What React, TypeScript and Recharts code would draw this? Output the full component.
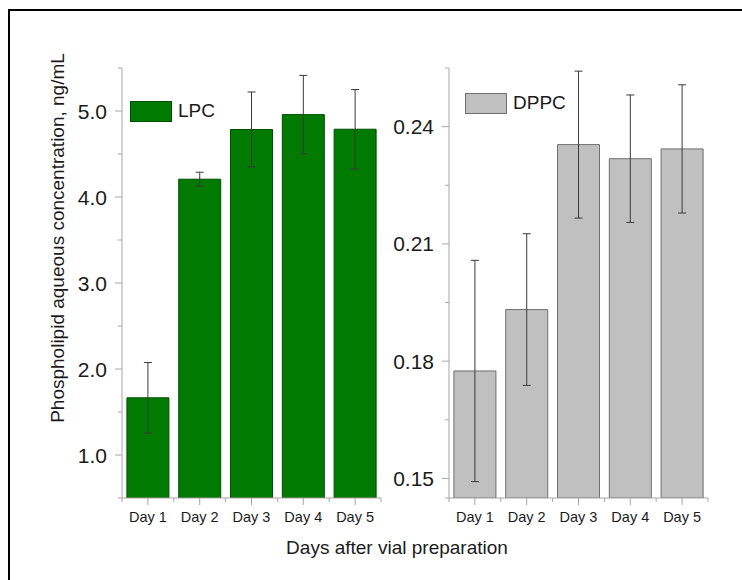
import React from 'react'
import { Bar, BarChart, ErrorBar, Legend, XAxis, YAxis } from 'recharts'

const DAYS = ['Day 1', 'Day 2', 'Day 3', 'Day 4', 'Day 5']
const LPC_MEAN = [1.665, 4.207, 4.785, 4.958, 4.788]
const LPC_ERR = [0.41, 0.081, 0.436, 0.456, 0.462]
const DPPC_MEAN = [0.1775, 0.1932, 0.2354, 0.2318, 0.2343]
const DPPC_ERR = [0.0283, 0.0194, 0.0188, 0.0163, 0.0164]
const LPC_TICKS = [0.5, 1, 1.5, 2, 2.5, 3, 3.5, 4, 4.5, 5, 5.5]
const DPPC_TICKS = [0.145, 0.15, 0.165, 0.18, 0.195, 0.21, 0.225, 0.24, 0.255]

const FONT = '"Liberation Sans", Arial, sans-serif'
const AXIS = '#a6a6a6'
const TEXT = '#1a1a1a'
const GREEN = '#007a00'
const GRAY = '#c0c0c0'

const lpcData = DAYS.map((day, i) => ({ day, mean: LPC_MEAN[i], err: LPC_ERR[i] }))
const dppcData = DAYS.map((day, i) => ({ day, mean: DPPC_MEAN[i], err: DPPC_ERR[i] }))

const yTick = (isMajor: (v: number) => boolean, digits: number) => (props: any) => {
  const { x, y, payload } = props
  const major = isMajor(payload.value)
  return (
    <g>
      <line x1={x - (major ? 7 : 4)} x2={x} y1={y} y2={y} stroke={AXIS} />
      {major && (
        <text x={x - 15} y={y} dy="0.36em" textAnchor="end" fontSize={21} fontFamily={FONT} fill={TEXT}>
          {payload.value.toFixed(digits)}
        </text>
      )}
    </g>
  )
}

const xTick = (props: any) => {
  const { x, y, payload, index } = props
  const half = payload.offset ?? 26
  return (
    <g>
      <line x1={x} x2={x} y1={y} y2={y + 7} stroke={AXIS} />
      <line x1={x - half} x2={x - half} y1={y} y2={y + 4} stroke={AXIS} />
      {index === DAYS.length - 1 && <line x1={x + half} x2={x + half} y1={y} y2={y + 4} stroke={AXIS} />}
      <text x={x} y={y + 24} textAnchor="middle" fontSize={14.5} fontFamily={FONT} fill={TEXT}>
        {payload.value}
      </text>
    </g>
  )
}

const legendContent = (fill: string, stroke: string) => (props: any) => {
  const item = props.payload?.[0]
  return (
    <div style={{ display: 'flex', alignItems: 'center', fontFamily: FONT, fontSize: 19, color: TEXT }}>
      <span
        style={{
          width: 42,
          height: 21,
          background: fill,
          border: `1px solid ${stroke}`,
          boxSizing: 'border-box',
          marginRight: 6,
        }}
      />
      <span>{item ? item.value : ''}</span>
    </div>
  )
}

export default function App() {
  return (
    <div
      style={{
        position: 'absolute',
        left: 0,
        top: 0,
        width: 742,
        height: 580,
        overflow: 'hidden',
        background: '#fff',
        fontFamily: FONT,
      }}
    >
      <div
        style={{
          position: 'absolute',
          left: 8,
          top: 9,
          width: 800,
          height: 700,
          borderLeft: '2.5px solid #000',
          borderTop: '2.5px solid #000',
        }}
      />

      {/* LPC panel */}
      <div style={{ position: 'absolute', left: 0, top: 0 }}>
        <BarChart
          width={400}
          height={580}
          data={lpcData}
          margin={{ top: 68, right: 19, bottom: 52, left: 62 }}
          barCategoryGap="9.5%"
        >
          <XAxis
            dataKey="day"
            height={30}
            interval={0}
            tickSize={0}
            tickMargin={0}
            tickLine={false}
            axisLine={{ stroke: AXIS }}
            tick={xTick}
          />
          <YAxis
            type="number"
            width={60}
            domain={[0.5, 5.5]}
            allowDataOverflow
            ticks={LPC_TICKS}
            interval={0}
            tickSize={0}
            tickMargin={0}
            tickLine={false}
            axisLine={{ stroke: AXIS }}
            tick={yTick((v) => Number.isInteger(v), 1)}
          />
          <Legend
            verticalAlign="middle"
            align="center"
            layout="horizontal"
            wrapperStyle={{ top: 100, left: 130, width: 'auto', height: 'auto' }}
            content={legendContent(GREEN, '#004f00')}
          />
          <Bar name="LPC" dataKey="mean" fill={GREEN} stroke="#004f00" strokeWidth={1} isAnimationActive={false}>
            <ErrorBar dataKey="err" width={4} stroke="#3a3a3a" strokeWidth={1} isAnimationActive={false} />
          </Bar>
        </BarChart>
      </div>

      {/* DPPC panel */}
      <div style={{ position: 'absolute', left: 380, top: 0 }}>
        <BarChart
          width={362}
          height={580}
          data={dppcData}
          margin={{ top: 68, right: 34, bottom: 52, left: 9 }}
          barCategoryGap="9.5%"
        >
          <XAxis
            dataKey="day"
            height={30}
            interval={0}
            tickSize={0}
            tickMargin={0}
            tickLine={false}
            axisLine={{ stroke: AXIS }}
            tick={xTick}
          />
          <YAxis
            type="number"
            width={60}
            domain={[0.145, 0.255]}
            allowDataOverflow
            ticks={DPPC_TICKS}
            interval={0}
            tickSize={0}
            tickMargin={0}
            tickLine={false}
            axisLine={{ stroke: AXIS }}
            tick={yTick((v) => Math.round(v * 1000) % 30 === 0, 2)}
          />
          <Legend
            verticalAlign="middle"
            align="center"
            layout="horizontal"
            wrapperStyle={{ top: 92, left: 85, width: 'auto', height: 'auto' }}
            content={legendContent(GRAY, '#6e6e6e')}
          />
          <Bar name="DPPC" dataKey="mean" fill={GRAY} stroke="#6e6e6e" strokeWidth={1} isAnimationActive={false}>
            <ErrorBar dataKey="err" width={4} stroke="#3a3a3a" strokeWidth={1} isAnimationActive={false} />
          </Bar>
        </BarChart>
      </div>

      <div
        style={{
          position: 'absolute',
          left: 57,
          top: 237.5,
          transform: 'translate(-50%, -50%) rotate(-90deg)',
          whiteSpace: 'nowrap',
          fontSize: 19,
          lineHeight: 1,
          color: TEXT,
        }}
      >
        Phospholipid aqueous concentration, ng/mL
      </div>
      <div
        style={{
          position: 'absolute',
          left: 397,
          top: 538,
          transform: 'translateX(-50%)',
          whiteSpace: 'nowrap',
          fontSize: 19,
          lineHeight: 1,
          color: TEXT,
        }}
      >
        Days after vial preparation
      </div>
    </div>
  )
}
